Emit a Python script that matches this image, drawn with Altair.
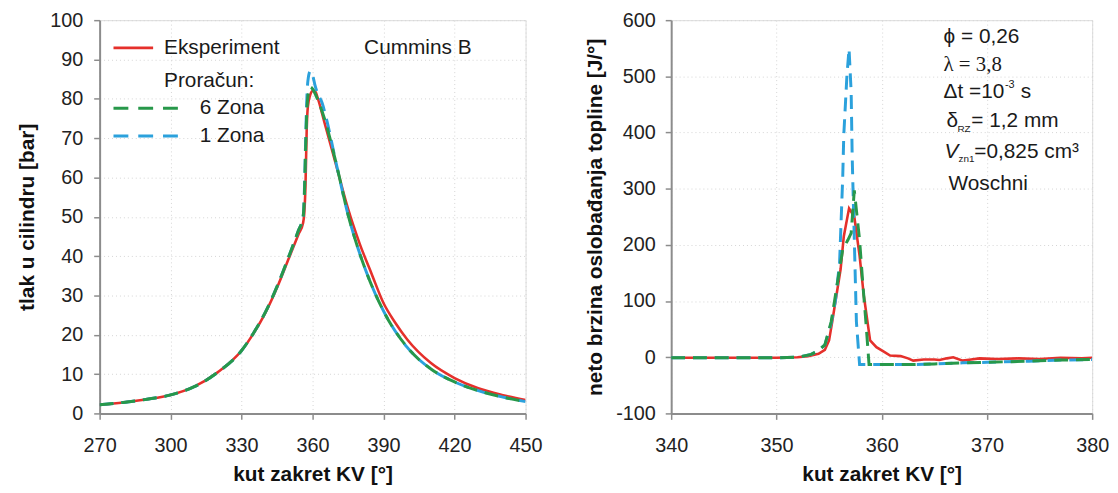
import altair as alt
import pandas as pd

FONT = "Liberation Sans"
RED = "#e5302b"
GREEN = "#27984a"
BLUE = "#2ba1dc"

# ---------------- left panel: cylinder pressure [bar] ----------------
p_exp_ang = [270, 280, 290, 300, 310, 320, 330, 335, 340, 345, 350, 354, 356, 356.5, 357, 357.5,
             358, 359, 360, 361, 362, 365, 370, 375, 380, 385, 390, 395, 400, 410, 420, 430, 440, 450]
p_exp_val = [2.2, 2.8, 3.6, 4.7, 6.8, 10.5, 16.0, 20.3, 25.5, 32.0, 39.5, 45.5, 48.5, 51, 58, 72,
             78, 81, 82, 82, 80.5, 74, 63, 52, 43, 35.4, 28, 23, 18.8, 12.8, 9.0, 6.4, 4.7, 3.4]

p_z6_ang = [270, 280, 290, 300, 310, 320, 330, 335, 340, 345, 350, 354, 356, 356.5, 357, 357.5,
            358, 359, 360, 362, 365, 370, 375, 380, 385, 390, 400, 410, 420, 430, 440, 450]
p_z6_val = [2.2, 2.8, 3.6, 4.7, 6.8, 10.5, 16.0, 20.4, 25.7, 32.3, 40.0, 46.5, 50, 55, 66, 76,
            80.5, 83, 82.5, 80, 75, 63.5, 50.5, 40.5, 32.5, 26, 16.8, 11.3, 8.0, 5.8, 4.2, 3.0]

p_z1_ang = [270, 280, 290, 300, 310, 320, 330, 335, 340, 345, 350, 354, 356, 356.5, 357, 357.5,
            358, 359, 360, 361, 362, 364, 366, 370, 375, 380, 385, 390, 400, 410, 420, 430, 440, 450]
p_z1_val = [2.2, 2.8, 3.6, 4.7, 6.8, 10.5, 16.0, 20.4, 25.7, 32.3, 40.0, 46.5, 50, 56, 68, 79,
            84.5, 87, 86, 83.5, 81.5, 79, 74.5, 63.5, 50.5, 40.5, 32.5, 26, 16.8, 11.3, 8.0, 5.8, 4.2, 3.0]

# ---------------- right panel: net heat release rate [J/deg] ----------------
q_exp_ang = [340, 342, 344, 346, 348, 350, 352, 353, 354, 354.6, 355.0, 355.3, 355.7, 356.1, 356.4,
             356.9, 357.4, 357.9, 358.3, 358.9, 359.5, 360.2, 360.8, 361.8, 362.5, 363.0, 364.0,
             365.0, 365.5, 366.2, 366.8, 367.7, 368.5, 369.3, 371, 373, 375, 377, 379, 380]
q_exp_val = [-1, -1, -1, -1, -1, -1, 0, 2, 6, 13, 30, 63, 110, 157, 215,
             265, 250, 181, 110, 30, 18, 10, 3, 2, -2, -6, -4,
             -4, -5, -2, 0, -6, -4, -2, -3, -2, -3, -1, -2, -1]

q_z6_ang = [340, 344, 348, 350, 352, 353.3, 354, 354.6, 355.2, 355.8, 356.3, 356.8, 357.1, 357.4,
            357.9, 358.2, 358.5, 358.8, 360, 363, 365, 367.7, 370, 374, 377, 380]
q_z6_val = [-1, -1, -1, -1, 0, 5, 12, 22, 63, 133, 192, 209, 221, 297,
            209, 133, 63, -13, -13, -13, -12, -10, -9, -7, -5, -4]

q_z1_ang = [340, 344, 348, 350, 352, 353.3, 354, 354.6, 355.2, 355.6, 356.0, 356.3, 356.4, 356.7,
            356.9, 357.1, 357.2, 357.4, 357.6, 357.9, 360, 363, 365, 367.7, 370, 374, 377, 380]
q_z1_val = [-1, -1, -1, -1, 0, 5, 12, 22, 60, 100, 168, 321, 396, 502,
            549, 472, 356, 209, 63, -13, -13, -13, -12, -10, -9, -7, -5, -4]

p_x_ticks = [270, 300, 330, 360, 390, 420, 450]
p_y_ticks = [0, 10, 20, 30, 40, 50, 60, 70, 80, 90, 100]
q_x_ticks = [340, 350, 360, 370, 380]
q_y_ticks = [-100, 0, 100, 200, 300, 400, 500, 600]

legend_labels = ["Eksperiment", "Proračun:", "6 Zona", "1 Zona"]
case_label = "Cummins B"

ONE = pd.DataFrame({"k": [0]})


def axis(values, title, lab_pad, title_pad):
    return alt.Axis(values=values, title=title, grid=True, gridColor="#d4d4d4", gridDash=[1, 3],
                    gridWidth=1, tickSize=6, tickColor="#8c8c8c", tickWidth=1.5, domain=True,
                    domainColor="#8c8c8c", domainWidth=2, labelFont=FONT, labelFontSize=20,
                    labelColor="#222222", labelPadding=lab_pad, labelFlush=False, labelOverlap=False,
                    labelExpr="'' + datum.value",
                    titleFont=FONT, titleFontSize=21, titleFontWeight="bold", titleColor="#111111",
                    titlePadding=title_pad)


def series_line(ang, val, color, dash, xdom, ydom, xax, yax, interp):
    df = pd.DataFrame({"ang": ang, "val": val})
    kw = dict(color=color, strokeWidth=2.6 if dash is None else 3.0, interpolate=interp, clip=True)
    if dash is not None:
        kw["strokeDash"] = dash
    return alt.Chart(df).mark_line(**kw).encode(
        x=alt.X("ang:Q", scale=alt.Scale(domain=xdom, nice=False, zero=False), axis=xax),
        y=alt.Y("val:Q", scale=alt.Scale(domain=ydom, nice=False, zero=False), axis=yax),
    )


def txt(s, px, py, size=21, style="normal", font=FONT, color="#1a1a1a"):
    return alt.Chart(ONE).mark_text(text=s, font=font, fontSize=size, fontStyle=style, color=color,
                                    align="left", baseline="middle").encode(
        x=alt.value(px), y=alt.value(py))


def swatch(x1, x2, y, color, dash=None):
    kw = dict(color=color, strokeWidth=2.6 if dash is None else 3.0)
    if dash is not None:
        kw["strokeDash"] = dash
    return alt.Chart(ONE).mark_rule(**kw).encode(x=alt.value(x1), x2=alt.value(x2), y=alt.value(y))


DASH = [14, 8]
H = 397

# left panel
lx = axis(p_x_ticks, "kut zakret KV [°]", 16, 9)
ly = axis(p_y_ticks, "tlak u cilindru [bar]", 11, 12)
left = alt.layer(
    series_line(p_exp_ang, p_exp_val, RED, None, [270, 450], [0, 100], lx, ly, "monotone"),
    series_line(p_z1_ang, p_z1_val, BLUE, DASH, [270, 450], [0, 100], lx, ly, "monotone"),
    series_line(p_z6_ang, p_z6_val, GREEN, DASH, [270, 450], [0, 100], lx, ly, "monotone"),
    swatch(14, 54, 28, RED),
    swatch(14, 79, 89, GREEN, [15, 10]),
    swatch(14, 79, 117, BLUE, [15, 10]),
    txt(legend_labels[0], 65, 28),
    txt(legend_labels[1], 65, 61),
    txt(legend_labels[2], 101, 89),
    txt(legend_labels[3], 101, 117),
    txt(case_label, 267, 28),
).properties(width=430, height=H)

# right panel
rx = axis(q_x_ticks, "kut zakret KV [°]", 16, 9)
ry = axis(q_y_ticks, "neto brzina oslobađanja topline [J/°]", 10, 10)
right = alt.layer(
    series_line(q_exp_ang, q_exp_val, RED, None, [340, 380], [-100, 600], rx, ry, "linear"),
    series_line(q_z1_ang, q_z1_val, BLUE, DASH, [340, 380], [-100, 600], rx, ry, "linear"),
    series_line(q_z6_ang, q_z6_val, GREEN, DASH, [340, 380], [-100, 600], rx, ry, "linear"),
    txt("ϕ = 0,26", 275, 17),
    txt("λ = 3,8", 275, 45, font="Liberation Serif"),
    txt("Δt =10", 275, 73),
    txt("-3", 337, 65, size=11),
    txt("s", 353, 73),
    txt("δ", 278, 102),
    txt("RZ", 289, 110, size=10),
    txt("= 1,2 mm", 303, 102),
    txt("V", 276, 133, style="italic"),
    txt("zn1", 290, 140, size=10),
    txt("=0,825 cm³", 306, 133),
    txt("Woschni", 280, 165),
).properties(width=425, height=H)

chart = alt.hconcat(left, right, spacing=41).properties(
    padding={"left": 8.5, "top": -1, "right": 0, "bottom": -1}
).configure_view(stroke="#8c8c8c", strokeWidth=2, fill="white").configure(background="white")

chart.save("out.html", embed_options={"renderer": "svg", "actions": False})
